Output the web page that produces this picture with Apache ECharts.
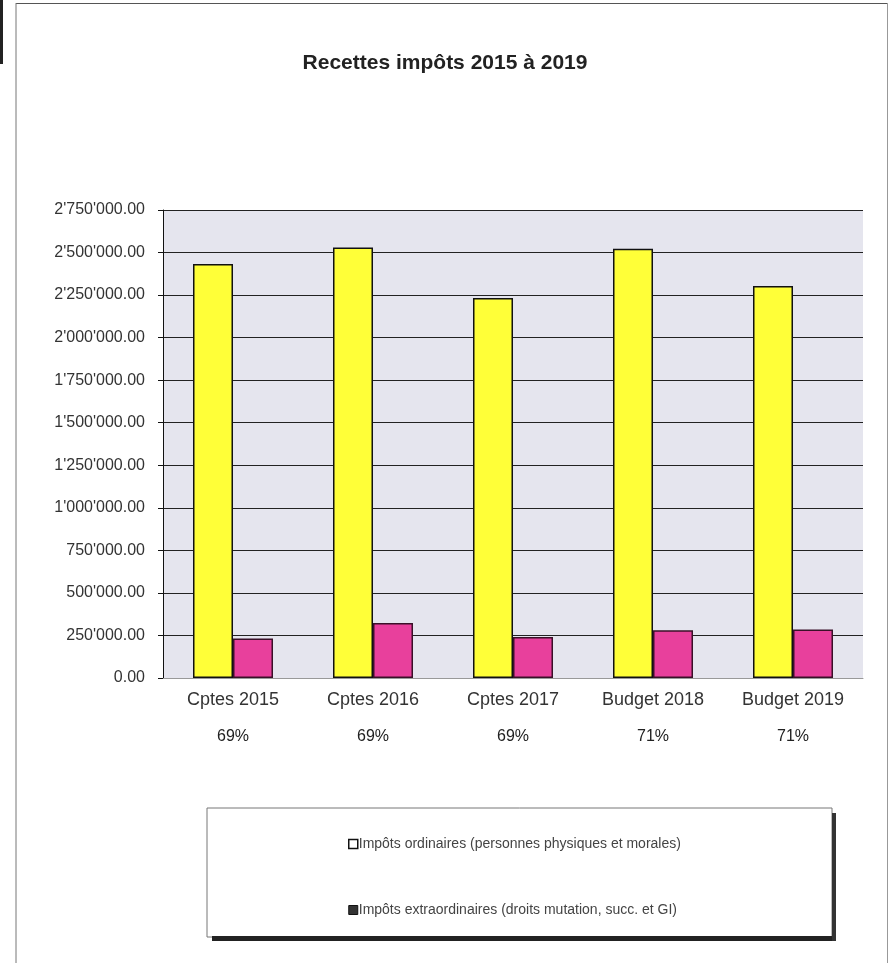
<!DOCTYPE html>
<html>
<head>
<meta charset="utf-8">
<script src="https://cdn.jsdelivr.net/npm/echarts@6/dist/echarts.min.js"></script>
<style>
html,body{margin:0;padding:0;background:#fff;}
#chart{width:890px;height:963px;}
</style>
</head>
<body>
<div id="chart"></div>
<script>
const categories = ['Cptes 2015', 'Cptes 2016', 'Cptes 2017', 'Budget 2018', 'Budget 2019'];
const percentLabels = ['69%', '69%', '69%', '71%', '71%'];
const ordinaires = [2432000, 2529000, 2233000, 2522000, 2304000];
const extraordinaires = [232000, 323000, 241000, 280000, 285000];
const seriesNames = ['Impôts ordinaires (personnes physiques et morales)', 'Impôts extraordinaires (droits mutation, succ. et GI)'];
const yMin = 0, yMax = 2750000, yStep = 250000;

function fmt(v) {
  const s = Math.round(v).toString().replace(/\B(?=(\d{3})+(?!\d))/g, "'");
  return s + '.00';
}

const chart = echarts.init(document.getElementById('chart'));
const FONT = '"Liberation Sans", Arial, sans-serif';

chart.setOption({
  backgroundColor: '#ffffff',
  animation: false,
  textStyle: { fontFamily: FONT },
  title: {
    text: 'Recettes impôts 2015 à 2019',
    left: 'center',
    top: 48,
    textStyle: { fontFamily: FONT, fontSize: 21, fontWeight: 'bold', color: '#222' }
  },
  grid: { left: 163, right: 27, top: 210, bottom: 285, containLabel: false,
          show: true, backgroundColor: '#e5e5ee', borderWidth: 0 },
  legend: {
    orient: 'vertical',
    left: 343,
    top: 832,
    itemGap: 52,
    itemWidth: 9,
    itemHeight: 9,
    textStyle: { fontFamily: FONT, fontSize: 14, color: '#444', padding: [0, 0, 0, -4] },
    data: [
      { name: seriesNames[0], icon: 'rect', itemStyle: { color: '#ffffff', borderColor: '#111', borderWidth: 1.5 } },
      { name: seriesNames[1], icon: 'rect', itemStyle: { color: '#333', borderColor: '#111', borderWidth: 1 } }
    ]
  },
  xAxis: {
    type: 'category',
    data: categories,
    axisLine: { lineStyle: { color: '#999', width: 1 } },
    axisTick: { show: false },
    axisLabel: {
      margin: 11,
      formatter: function (val, idx) { return '{a|' + val + '}\n{b|' + percentLabels[idx] + '}'; },
      rich: {
        a: { fontFamily: FONT, fontSize: 18, color: '#333', lineHeight: 22 },
        b: { fontFamily: FONT, fontSize: 16, color: '#222', lineHeight: 52 }
      }
    }
  },
  yAxis: {
    type: 'value',
    min: yMin, max: yMax, interval: yStep,
    axisLine: { show: true, lineStyle: { color: '#111', width: 1 } },
    axisTick: { show: true, length: 5, lineStyle: { color: '#111' } },
    splitLine: { lineStyle: { color: '#222', width: 1 } },
    axisLabel: { margin: 18, fontFamily: FONT, fontSize: 16, color: '#333', formatter: fmt }
  },
  series: [
    { name: seriesNames[0], type: 'bar', data: ordinaires, barWidth: 40, barGap: '0%',
      itemStyle: { color: '#ffff38', borderColor: '#111', borderWidth: 1.5 } },
    { name: seriesNames[1], type: 'bar', data: extraordinaires, barWidth: 40, barGap: '0%',
      itemStyle: { color: '#e8409c', borderColor: '#3a1028', borderWidth: 1.5 } }
  ],
  graphic: [
    { type: 'rect', shape: { x: 0, y: 0, width: 3, height: 64 }, style: { fill: '#222' } },
    { type: 'line', shape: { x1: 16, y1: 3.5, x2: 887, y2: 3.5 }, style: { stroke: '#555', lineWidth: 1.2 } },
    { type: 'line', shape: { x1: 16, y1: 3, x2: 16, y2: 963 }, style: { stroke: '#777', lineWidth: 1 } },
    { type: 'line', shape: { x1: 887.5, y1: 3, x2: 887.5, y2: 963 }, style: { stroke: '#999', lineWidth: 1 } },
    { type: 'rect', z: -1, shape: { x: 207, y: 808, width: 625, height: 129 }, style: { fill: '#fff', stroke: '#777', lineWidth: 1 } },
    { type: 'rect', shape: { x: 212, y: 936, width: 624, height: 5 }, style: { fill: '#222' } },
    { type: 'rect', shape: { x: 832, y: 813, width: 4, height: 128 }, style: { fill: '#333' } }
  ]
});
</script>
</body>
</html>
